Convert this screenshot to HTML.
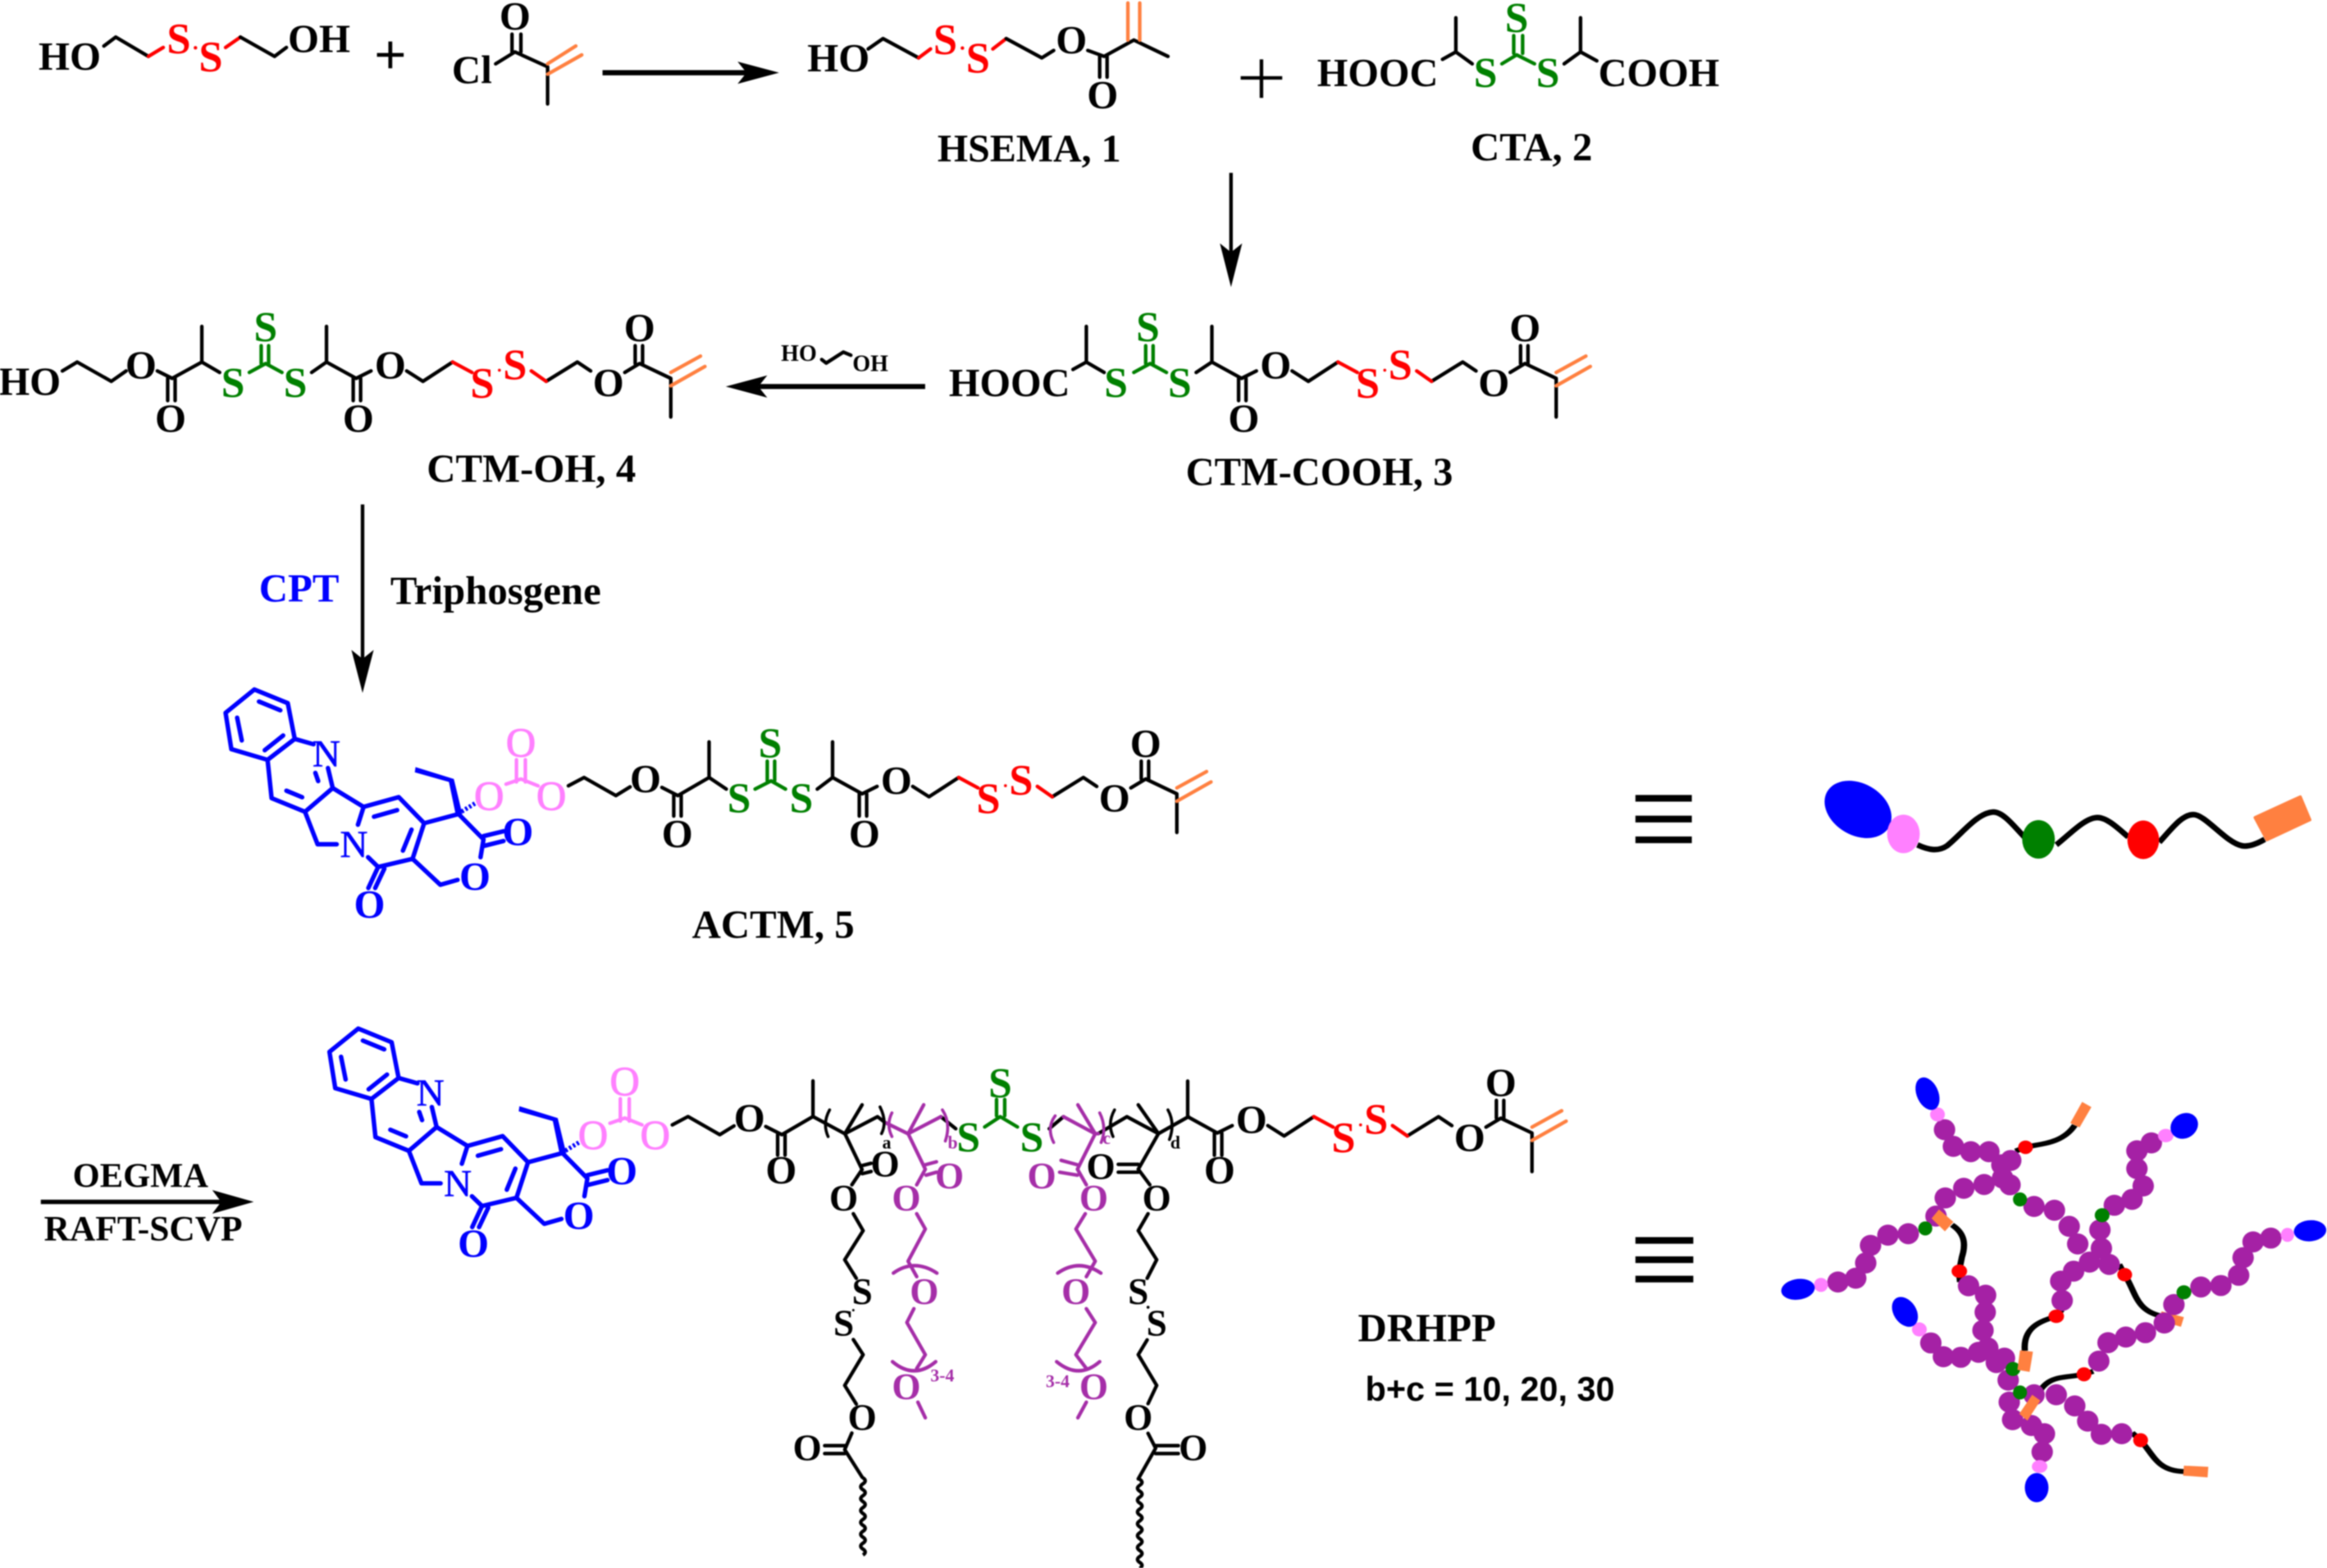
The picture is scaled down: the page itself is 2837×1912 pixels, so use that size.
<!DOCTYPE html>
<html><head><meta charset="utf-8"><style>
html,body{margin:0;padding:0;background:#fff}
svg{display:block;filter:blur(.8px)}
text{font-family:"Liberation Serif",serif;font-weight:bold;font-size:27px;text-anchor:middle}
.s{text-anchor:start}
.m{font-size:25px}
.r{font-weight:normal}
.k{fill:#000}.e{fill:#ff0000;font-size:29px}.g{fill:#008000;font-size:28.5px}.b{fill:#0000ff}.p{fill:#ff80ff;font-size:28px;stroke:#ff80ff;stroke-width:.5}.v{fill:#a52ea8}
.n{font-size:26px;stroke:#0000ff;stroke-width:.3}
path.l{fill:none;stroke-width:2.4;stroke-linejoin:round;stroke-linecap:round}
.K{stroke:#000}.E{stroke:#ff0000}.G{stroke:#008000}.B{stroke:#0000ff}.P{stroke:#ff80ff}.V{stroke:#a52ea8}.O{stroke:#ff8040}
</style></head><body>
<svg xmlns="http://www.w3.org/2000/svg" width="2837" height="1912" viewBox="0 0 1568 1056.75" preserveAspectRatio="none">
<rect width="1568" height="1057" fill="#fff"/>

<!-- Row 1 -->
<text x="47" y="47">HO</text>
<path class="l K" d="M70,31 L78,25 L100,38"/><path class="l E" d="M100,38 L110,32"/>
<text x="120.5" y="36" class="e">S</text><text x="142" y="48" class="e">S</text>
<circle cx="131.7" cy="32.2" r="1.2" fill="#ff0000"/>
<path class="l E" d="M152,32 L162,25"/><path class="l K" d="M162,25 L185,38 L193,32"/>
<text x="215" y="35">OH</text>
<path d="M263,28V46M254,37H272" stroke="#000" stroke-width="2.6" fill="none"/>
<text x="318" y="56">Cl</text>
<path class="l K" d="M334,43 L347,35 L369,45 L369,70M345,35V23M351,35V23"/>
<text x="347" y="20">O</text>
<path class="l O" d="M369,43 L388,31M369,50 L392,37"/>
<path d="M406,49H503" stroke="#000" stroke-width="3.5"/><polygon points="525,49 497,41.5 503,49 497,56.5"/>

<text x="565" y="48">HO</text>
<path class="l K" d="M585,33 L595,26 L619,39"/><path class="l E" d="M619,39 L627,33"/>
<text x="637" y="36.5" class="e">S</text><text x="659" y="49" class="e">S</text>
<circle cx="648.5" cy="32.4" r="1.2" fill="#ff0000"/>
<path class="l E" d="M669,33 L678,26"/><path class="l K" d="M678,26 L702,39 L710,34"/>
<text x="722" y="36">O</text>
<path class="l K" d="M733,34 L744,38 L764,27 L787,38M741,38V52M746,38V52"/>
<text x="743" y="73">O</text>
<path class="l O" d="M760,27V2M768,27V2"/>
<text x="693.5" y="109" style="font-size:26.5px">HSEMA, 1</text>

<path d="M850,40V66M836,52.5H864" stroke="#000" stroke-width="2.4" fill="none"/>
<text x="887.5" y="58" class="s" style="font-size:26.7px">HOOC</text>
<path class="l K" d="M972,40 L981,35 L992,43M981,35V12"/>
<text x="1001" y="58.5" class="g">S</text>
<path class="l G" d="M1012,43 L1022,37 L1034,43M1020,36V24M1026,36V24"/>
<text x="1022" y="21.5" class="g">S</text><text x="1043" y="58.5" class="g">S</text>
<path class="l K" d="M1054,43 L1065,35 L1076,41M1065,35V12"/>
<text x="1077" y="58" class="s" style="font-size:26.7px">COOH</text>
<text x="1032" y="108">CTA, 2</text>
<path d="M829.5,116.5V170" stroke="#000" stroke-width="2.4"/><polygon points="829.5,193.5 822,164 829.5,170 837,164"/>

<!-- CTM-OH, 4 -->
<text x="20" y="266">HO</text>
<path class="l K" d="M42,250 L52,244 L75,257 L85,250M106,250 L116,255 L136,244 L148,251M136,244V220M113,255V270M118,255V270"/>
<text x="95" y="255">O</text><text x="115" y="291">O</text>
<text x="157" y="267.5" class="g">S</text>
<path class="l G" d="M168,251 L179,245 L190,251M176,245V233M181,245V233"/>
<text x="179" y="230" class="g">S</text><text x="199" y="267.5" class="g">S</text>
<path class="l K" d="M210,251 L220,244"/>
<g>
<path class="l K" d="M220,244 L240,255 L250,250M220,244V220M238,255V270M243,255V270M274,250 L285,257 L305,244M368,257 L389,244 L398,250M421,251 L431,245 L452,255 L452,281M428,245V233M433,245V233"/>
<path class="l E" d="M305,244 L318,251M358,250 L368,257"/>
<path class="l O" d="M452,251 L472,240M452,260 L475,247"/>
<text x="241.5" y="291">O</text><text x="263" y="255">O</text>
<text x="325" y="268" class="e">S</text><text x="347" y="255.5" class="e">S</text>
<circle cx="336.5" cy="249.5" r="1" fill="#ff0000"/>
<text x="410" y="267">O</text><text x="431" y="230">O</text>
</g>
<text x="358" y="324.6">CTM-OH, 4</text>

<text x="538.3" y="243.2" style="font-size:15.5px">HO</text>
<path class="l K" d="M553.7,242.3 L556.7,244.7 L568.3,237.3 L573.3,239.4"/>
<text x="586.5" y="250" style="font-size:15.5px">OH</text>
<path d="M623.4,260.5H511" stroke="#000" stroke-width="3.4"/><polygon points="489,260.5 517,253 511,260.5 517,268"/>

<!-- CTM-COOH, 3 -->
<text x="639.4" y="267" class="s" style="font-size:26.7px">HOOC</text>
<path class="l K" d="M723,249 L732,244 L744,251M732,244V220"/>
<text x="752" y="267.5" class="g">S</text>
<path class="l G" d="M764,251 L775,245 L786,251M772,245V233M777,245V233"/>
<text x="773.5" y="230" class="g">S</text><text x="795" y="267.5" class="g">S</text>
<path class="l K" d="M806,251 L816.6,244"/>
<g transform="translate(596.6,0)">
<path class="l K" d="M220,244 L240,255 L250,250M220,244V220M238,255V270M243,255V270M274,250 L285,257 L305,244M368,257 L389,244 L398,250M421,251 L431,245 L452,255 L452,281M428,245V233M433,245V233"/>
<path class="l E" d="M305,244 L318,251M358,250 L368,257"/>
<path class="l O" d="M452,251 L472,240M452,260 L475,247"/>
<text x="241.5" y="291">O</text><text x="263" y="255">O</text>
<text x="325" y="268" class="e">S</text><text x="347" y="255.5" class="e">S</text>
<circle cx="336.5" cy="249.5" r="1" fill="#ff0000"/>
<text x="410" y="267">O</text><text x="431" y="230">O</text>
</g>
<text x="889" y="327" style="font-size:26.8px">CTM-COOH, 3</text>

<!-- Arrow with CPT -->
<path d="M244.3,340V445" stroke="#000" stroke-width="2.4"/><polygon points="244.3,467 236.8,438 244.3,444 251.8,438"/>
<text x="201.5" y="405.5" class="b">CPT</text>
<text x="263" y="407" class="s">Triphosgene</text>

<!-- ACTM CPT part -->
<g>
<path class="l B" style="stroke-width:3" d="M171.4,464.7 L193.9,473.9 L198.6,498 L180.3,512.1 L155.9,504.9 L152,480.4 Z M174.5,472.8 L188.9,478.7 M159.8,483.7 L162.9,499 M178.4,505.6 L190.8,495.7 M198.6,498 L211.3,501.6 M180.3,512.1 L183,537.9 L205.5,547.1 L224.2,531.1 L221,517.6 M193,532.9 L203.6,537.3 M214.4,526.4 L212.5,520.9 M224.2,531.1 L245,543.8 L268.7,537.2 L285.8,554.8 L278,578.8 L254.8,584.3 L248,577.7 M252,550.4 L267.6,546 M245,543.8 L241.2,555.8 M205.5,547.1 L214,569 L226.9,569 M271.5,573.3 L277.3,559.1 M254.8,584.3 L248.2,598.5 M259,585.4 L252.8,598.5 M278,578.8 L296.7,596.3 L308.3,593 M285.8,554.8 L309,548.6 L325.8,565.7 L323.8,577.7 M325.8,563.5 L339.3,560.2 M326.5,570 L339.3,566.8"/>
<polygon class="b" points="307,548.6 311.5,548.6 305.8,525 280,517 279.5,520.5 302.5,527"/>
<path d="M311,547 L320,541.5" stroke="#0000ff" stroke-width="3" stroke-dasharray="1.6 1.4" fill="none"/>
<text x="220" y="516.5" class="b r n">N</text><text x="238.5" y="577.7" class="b r n">N</text>
<text x="249" y="618.6" class="b">O</text><text x="320" y="599.6" class="b">O</text><text x="349" y="569.6" class="b">O</text>
<path class="l P" d="M341,528.5 L351,525 L362.6,529.6M348,527V512M354,527V512"/>
<text x="329.6" y="546" class="p r">O</text><text x="351" y="510" class="p r">O</text><text x="371.5" y="546" class="p r">O</text>
<path class="l K" d="M383,529.6 L393.6,524 L415,536.2 L424.6,530.3M446,530.7 L456.8,536.2 L477.8,524 M477.8,524V500M454,536V550M459,536V550"/>
<text x="435" y="534">O</text><text x="456.4" y="571">O</text>
</g>
<path class="l K" d="M477.8,524 L489.4,531.8"/>
<text x="498" y="547.5" class="g">S</text>
<path class="l G" d="M508.8,531.8 L519.6,526.3 L529.3,531.8M517,526V513M522,526V513"/>
<text x="519" y="510.5" class="g">S</text><text x="540" y="547.5" class="g">S</text>
<path class="l K" d="M550.7,531.8 L561,524"/>
<g transform="translate(341,280)">
<path class="l K" d="M220,244 L240,255 L250,250M220,244V220M238,255V270M243,255V270M274,250 L285,257 L305,244M368,257 L389,244 L398,250M421,251 L431,245 L452,255 L452,281M428,245V233M433,245V233"/>
<path class="l E" d="M305,244 L318,251M358,250 L368,257"/>
<path class="l O" d="M452,251 L472,240M452,260 L475,247"/>
<text x="241.5" y="291">O</text><text x="263" y="255">O</text>
<text x="325" y="268" class="e">S</text><text x="347" y="255.5" class="e">S</text>
<circle cx="336.5" cy="249.5" r="1" fill="#ff0000"/>
<text x="410" y="267">O</text><text x="431" y="230">O</text>
</g>
<text x="521" y="632">ACTM, 5</text>

<!-- equivalence -->
<path d="M1102,538H1140M1102,552H1140M1102,566H1140M1102,836H1141M1102,849H1141M1102,862H1141" stroke="#000" stroke-width="4.5" fill="none"/>

<!-- small schematic -->
<path d="M1292,569.4 C1300,573 1306,574 1312,570 C1322,562 1332,548 1343,547.3 C1350,547 1358,558 1364,564 M1385.6,569.4 C1395,562 1405,551 1413.4,551 C1420,551 1428,559 1434,564 M1455,567.6 C1463,559 1470,549 1478,549 C1486,549 1500,568 1510.7,570 C1516,571 1522,568 1526,565.7" fill="none" stroke="#000" stroke-width="3.8"/>
<ellipse cx="1252" cy="545.5" rx="24" ry="17.5" transform="rotate(30 1252 545.5)" fill="#0000ff"/>
<ellipse cx="1282.6" cy="562" rx="11" ry="13" fill="#ff80ff"/>
<ellipse cx="1373.6" cy="565.7" rx="11" ry="13" fill="#008000"/>
<ellipse cx="1444.2" cy="566" rx="10.7" ry="13" fill="#ff0000"/>
<polygon points="1519.5,551 1550,537 1556.5,552.5 1527.5,566" fill="#ff8040" stroke="#ff8040" stroke-width="2" stroke-linejoin="round"/>

<!-- Lower arrow -->
<text x="94.7" y="800" style="font-size:23.5px">OEGMA</text>
<path d="M27.5,810H150" stroke="#000" stroke-width="3"/><polygon points="171,810 143,802 149,810 143,818"/>
<text x="96.5" y="836" style="font-size:24px">RAFT-SCVP</text>

<!-- DRHPP CPT part -->
<g transform="translate(70,228.5)">
<path class="l B" style="stroke-width:3" d="M171.4,464.7 L193.9,473.9 L198.6,498 L180.3,512.1 L155.9,504.9 L152,480.4 Z M174.5,472.8 L188.9,478.7 M159.8,483.7 L162.9,499 M178.4,505.6 L190.8,495.7 M198.6,498 L211.3,501.6 M180.3,512.1 L183,537.9 L205.5,547.1 L224.2,531.1 L221,517.6 M193,532.9 L203.6,537.3 M214.4,526.4 L212.5,520.9 M224.2,531.1 L245,543.8 L268.7,537.2 L285.8,554.8 L278,578.8 L254.8,584.3 L248,577.7 M252,550.4 L267.6,546 M245,543.8 L241.2,555.8 M205.5,547.1 L214,569 L226.9,569 M271.5,573.3 L277.3,559.1 M254.8,584.3 L248.2,598.5 M259,585.4 L252.8,598.5 M278,578.8 L296.7,596.3 L308.3,593 M285.8,554.8 L309,548.6 L325.8,565.7 L323.8,577.7 M325.8,563.5 L339.3,560.2 M326.5,570 L339.3,566.8"/>
<polygon class="b" points="307,548.6 311.5,548.6 305.8,525 280,517 279.5,520.5 302.5,527"/>
<path d="M311,547 L320,541.5" stroke="#0000ff" stroke-width="3" stroke-dasharray="1.6 1.4" fill="none"/>
<text x="220" y="516.5" class="b r n">N</text><text x="238.5" y="577.7" class="b r n">N</text>
<text x="249" y="618.6" class="b">O</text><text x="320" y="599.6" class="b">O</text><text x="349" y="569.6" class="b">O</text>
<path class="l P" d="M341,528.5 L351,525 L362.6,529.6M348,527V512M354,527V512"/>
<text x="329.6" y="546" class="p r">O</text><text x="351" y="510" class="p r">O</text><text x="371.5" y="546" class="p r">O</text>
<path class="l K" d="M383,529.6 L393.6,524 L415,536.2 L424.6,530.3M446,530.7 L456.8,536.2 L477.8,524 M477.8,524V500M454,536V550M459,536V550"/>
<text x="435" y="534">O</text><text x="456.4" y="569">O</text>
</g>

<!-- backbone -->
<path class="l K" d="M548,752.6 L569.3,764.1 L591.3,752.6 L596.4,756.5M569.3,764.1 L580.9,744.6M634,752.6 L644,760.7M740,764 L759.3,752.6 L780.6,764 L800.8,752.6M767,744.6 L780.6,764M707,760.7 L716.6,752.6"/>
<path class="l V" d="M596.4,756.5 L611.9,764.1 L634,752.6M611.9,764.1 L622.4,744.6M716.6,752.6 L738,764.1 L740,764M726.3,744.6 L738,764.1"/>
<path class="l K" style="stroke-width:2" d="M559,748 Q554,757 558,766M593,746 Q598,756 594,764M751,748 Q746,757 750,766M787,748 Q792,757 788,768"/>
<path class="l V" style="stroke-width:2" d="M601,750 Q597,758 601,766M635,748 Q641,757 637,769M711,752 Q705,760 710,770M741,750 Q746,760 742,770"/>
<text x="597.5" y="774" style="font-size:12px">a</text><text x="642" y="774" class="v" style="font-size:12px">b</text>
<text x="745.7" y="771" class="v" style="font-size:12px">c</text><text x="792" y="774" style="font-size:12px">d</text>
<text x="652.6" y="776" class="g">S</text><text x="674" y="739.5" class="g">S</text><text x="695.3" y="776" class="g">S</text>
<path class="l G" d="M663.5,759.5 L674,752.6 L685.6,759.5M671.5,752V741M677,752V741"/>
<g transform="translate(580.3,508.6)">
<path class="l K" d="M220,244 L240,255 L250,250M220,244V220M238,255V270M243,255V270M274,250 L285,257 L305,244M368,257 L389,244 L398,250M421,251 L431,245 L452,255 L452,281M428,245V233M433,245V233"/>
<path class="l E" d="M305,244 L318,251M358,250 L368,257"/>
<path class="l O" d="M452,251 L472,240M452,260 L475,247"/>
<text x="241.5" y="289">O</text><text x="263" y="255">O</text>
<text x="325" y="268" class="e">S</text><text x="347" y="255.5" class="e">S</text>
<circle cx="336.5" cy="249.5" r="1" fill="#ff0000"/>
<text x="410" y="267">O</text><text x="431" y="230">O</text>
</g>

<!-- left black side chain -->
<path class="l K" d="M569.3,764 L580.9,788.2 L574,798.5M581,785.5 L587,784M581,791 L587,789.5M575,818 L581.6,829.4 L569.2,849 L577,861.5M575,902.8 L581.6,913 L569.2,933.7 L577,946.3M574,965.8 L569.2,977 L581,995.6M555.7,974.3 H569.2M555.7,979.6 H569.2"/>
<text x="596.4" y="792.8" class="m">O</text><text x="568.5" y="815.7" class="m">O</text>
<text x="581" y="878.7" class="m">S</text><text x="568.5" y="900" class="m">S</text>
<circle cx="575" cy="883" r=".8"/>
<text x="581" y="963.5" class="m">O</text><text x="544" y="984" class="m">O</text>
<path d="M581.5,996 q3,2 0,4 t0,4 t0,4 t0,4 t0,4 t0,4 t0,4 t0,4 t0,4 t0,4 t0,4 t0,4 t0,4" fill="none" stroke="#000" stroke-width="2.4"/>

<!-- right black side chain -->
<path class="l K" d="M780.6,764 L767,788 L774.8,798.5M753.5,784.7 H767M753.5,790 H767M773.6,818 L767,829.4 L779.4,849 L773,861.5M773,903 L767,913 L779.4,933.7 L773.6,946M773.6,966 L778.7,976 L767,996.7M778.7,974.3 H794M778.7,979.6 H794"/>
<text x="741.8" y="794.6" class="m">O</text><text x="779.4" y="815.7" class="m">O</text>
<text x="767" y="878.7" class="m">S</text><text x="779.4" y="900" class="m">S</text>
<circle cx="773.6" cy="881" r="1"/>
<text x="767" y="963.5" class="m">O</text><text x="804" y="984" class="m">O</text>
<path d="M768,997 q3,2 0,4 t0,4 t0,4 t0,4 t0,4 t0,4 t0,4 t0,4 t0,4 t0,4 t0,4 t0,4 t0,4 t0,4 t0,4" fill="none" stroke="#000" stroke-width="2.4"/>

<!-- purple left -->
<path class="l V" d="M611.9,764 L623.5,788 L617.7,798.5M623.5,785 L631,783M624,792 L631,790M617.7,818 L623.5,828.3 L611.9,850 L617.7,860.4M615.8,882 L611.1,891.3 L623.5,913 L617.7,922.3M618.5,945 L623.5,955.5M602,858 Q616,848 631.3,858M601.4,917.7 Q616,930 630.5,917.7"/>
<text x="639.8" y="800.8" class="v m">O</text><text x="610.7" y="815.7" class="v m">O</text><text x="622.8" y="878.7" class="v m">O</text><text x="610.7" y="942.9" class="v m">O</text>
<text x="635" y="931" class="v" style="font-size:12px">3-4</text>
<!-- purple right -->
<path class="l V" d="M738,764 L726,788 L732,798.5M726,785 L715,782M726,792 L714,790M731.3,818 L725,828.3 L738,850 L732,860.4M732,882 L738,891.3 L725,913 L732,922.3M732,945 L726.3,955.5M712.7,858 Q727,848 741.8,858M712,917.7 Q727,930 741,917.7"/>
<text x="702" y="800.8" class="v m">O</text><text x="737" y="815.7" class="v m">O</text><text x="725" y="878.7" class="v m">O</text><text x="737" y="942.9" class="v m">O</text>
<text x="712.7" y="935" class="v" style="font-size:12px">3-4</text>

<text x="961.5" y="904">DRHPP</text>
<text x="920" y="944" class="s" style="font-family:'Liberation Sans',sans-serif;font-size:22.9px">b+c = 10, 20, 30</text>

<!-- network -->
<g transform="translate(1177.4,713) scale(.2493,.1974)">
<g fill="none" stroke="#000" stroke-width="17">
<path d="M725,318 L752,305 C790,292 850,295 885,230"/>
<path d="M553,570 C590,600 590,640 580,680 L572,730 L575,765"/>
<path d="M850,860 L835,882 C790,900 745,920 750,1000"/>
<path d="M1005,705 L1020,740 C1050,800 1050,860 1115,880"/>
<path d="M935,1070 L910,1080 C850,1095 810,1080 780,1160"/>
<path d="M1040,1280 L1063,1305 C1100,1360 1110,1410 1180,1412"/>
</g>
<polygon points="1120,865 1180,885 1172,918 1110,895" fill="#ff8040"/>
<g fill="#a521a5">
<ellipse cx="533" cy="245" rx="29" ry="36"/><ellipse cx="557" cy="302" rx="29" ry="36"/><ellipse cx="604" cy="320" rx="29" ry="36"/><ellipse cx="653" cy="320" rx="29" ry="36"/><ellipse cx="688" cy="365" rx="29" ry="36"/><ellipse cx="712" cy="350" rx="29" ry="36"/><ellipse cx="690" cy="410" rx="29" ry="36"/><ellipse cx="710" cy="433" rx="29" ry="36"/>
<ellipse cx="535" cy="478" rx="29" ry="36"/><ellipse cx="585" cy="445" rx="29" ry="36"/><ellipse cx="640" cy="432" rx="29" ry="36"/><ellipse cx="510" cy="540" rx="29" ry="36"/>
<ellipse cx="435" cy="600" rx="29" ry="36"/><ellipse cx="380" cy="605" rx="29" ry="36"/><ellipse cx="333" cy="640" rx="29" ry="36"/><ellipse cx="320" cy="700" rx="29" ry="36"/><ellipse cx="293" cy="752" rx="29" ry="36"/><ellipse cx="245" cy="765" rx="29" ry="36"/>
<ellipse cx="775" cy="507" rx="29" ry="36"/><ellipse cx="830" cy="520" rx="29" ry="36"/><ellipse cx="870" cy="575" rx="29" ry="36"/><ellipse cx="893" cy="635" rx="29" ry="36"/><ellipse cx="925" cy="697" rx="29" ry="36"/><ellipse cx="957" cy="650" rx="29" ry="36"/><ellipse cx="978" cy="705" rx="29" ry="36"/><ellipse cx="953" cy="587" rx="29" ry="36"/>
<ellipse cx="992" cy="503" rx="29" ry="36"/><ellipse cx="1040" cy="483" rx="29" ry="36"/><ellipse cx="1070" cy="437" rx="29" ry="36"/><ellipse cx="1053" cy="378" rx="29" ry="36"/><ellipse cx="1053" cy="317" rx="29" ry="36"/><ellipse cx="1092" cy="290" rx="29" ry="36"/>
<ellipse cx="882" cy="728" rx="29" ry="36"/><ellipse cx="847" cy="762" rx="29" ry="36"/><ellipse cx="851" cy="828" rx="29" ry="36"/>
<ellipse cx="1153" cy="842" rx="29" ry="36"/><ellipse cx="1226" cy="782" rx="29" ry="36"/><ellipse cx="1280" cy="777" rx="29" ry="36"/><ellipse cx="1328" cy="742" rx="29" ry="36"/><ellipse cx="1340" cy="682" rx="29" ry="36"/><ellipse cx="1367" cy="628" rx="29" ry="36"/><ellipse cx="1415" cy="615" rx="29" ry="36"/>
<ellipse cx="1127" cy="905" rx="29" ry="36"/><ellipse cx="1076" cy="938" rx="29" ry="36"/><ellipse cx="1023" cy="953" rx="29" ry="36"/><ellipse cx="975" cy="972" rx="29" ry="36"/><ellipse cx="950" cy="1035" rx="29" ry="36"/>
<ellipse cx="598" cy="778" rx="29" ry="36"/><ellipse cx="644" cy="810" rx="29" ry="36"/><ellipse cx="643" cy="868" rx="29" ry="36"/><ellipse cx="637" cy="930" rx="29" ry="36"/><ellipse cx="650" cy="990" rx="29" ry="36"/><ellipse cx="625" cy="1005" rx="29" ry="36"/><ellipse cx="577" cy="1022" rx="29" ry="36"/><ellipse cx="530" cy="1020" rx="29" ry="36"/><ellipse cx="496" cy="973" rx="29" ry="36"/>
<ellipse cx="673" cy="1040" rx="29" ry="36"/><ellipse cx="695" cy="1025" rx="29" ry="36"/><ellipse cx="705" cy="1100" rx="29" ry="36"/><ellipse cx="708" cy="1175" rx="29" ry="36"/><ellipse cx="717" cy="1235" rx="29" ry="36"/><ellipse cx="768" cy="1255" rx="29" ry="36"/><ellipse cx="803" cy="1283" rx="29" ry="36"/><ellipse cx="797" cy="1345" rx="29" ry="36"/>
<ellipse cx="775" cy="1150" rx="29" ry="36"/><ellipse cx="835" cy="1150" rx="29" ry="36"/><ellipse cx="885" cy="1188" rx="29" ry="36"/><ellipse cx="920" cy="1240" rx="29" ry="36"/><ellipse cx="957" cy="1285" rx="29" ry="36"/><ellipse cx="1012" cy="1283" rx="29" ry="36"/>
</g>
<g fill="#008000">
<ellipse cx="737" cy="483" rx="19" ry="24"/><ellipse cx="481" cy="582" rx="19" ry="24"/><ellipse cx="959" cy="537" rx="20" ry="24"/><ellipse cx="1180" cy="800" rx="20" ry="24"/><ellipse cx="718" cy="1062" rx="20" ry="24"/><ellipse cx="737" cy="1142" rx="19" ry="24"/>
</g>
<g fill="#ff0000">
<ellipse cx="752" cy="305" rx="20" ry="23"/><ellipse cx="573" cy="728" rx="21" ry="23"/><ellipse cx="835" cy="882" rx="21" ry="23"/><ellipse cx="1020" cy="740" rx="20" ry="23"/><ellipse cx="910" cy="1080" rx="20" ry="24"/><ellipse cx="1063" cy="1305" rx="20" ry="24"/>
</g>
<g fill="#ff80ff">
<ellipse cx="514" cy="193" rx="20" ry="24"/><ellipse cx="199" cy="775" rx="19" ry="24"/><ellipse cx="1131" cy="265" rx="21" ry="23"/><ellipse cx="1460" cy="604" rx="18" ry="24"/><ellipse cx="465" cy="927" rx="20" ry="24"/><ellipse cx="790" cy="1395" rx="21" ry="22"/>
</g>
<g fill="#0000ff">
<ellipse cx="487" cy="122" rx="30" ry="57" transform="rotate(-15 487 122)"/>
<ellipse cx="137" cy="790" rx="46" ry="35" transform="rotate(-15 137 790)"/>
<ellipse cx="1181" cy="232" rx="36" ry="45" transform="rotate(20 1181 232)"/>
<ellipse cx="1521" cy="590" rx="44" ry="36" transform="rotate(-10 1521 590)"/>
<ellipse cx="426" cy="867" rx="32" ry="53" transform="rotate(-20 426 867)"/>
<ellipse cx="782" cy="1467" rx="32" ry="50"/>
</g>
<g fill="#ff8040">
<polygon points="905,150 930,168 898,237 873,222"/>
<polygon points="518,517 557,560 534,592 498,548"/>
<polygon points="737,998 772,1003 763,1072 730,1065"/>
<polygon points="770,1150 792,1170 757,1238 735,1215"/>
<polygon points="1180,1392 1246,1396 1244,1432 1178,1426"/>
</g>
</g>
</svg>
</body></html>
